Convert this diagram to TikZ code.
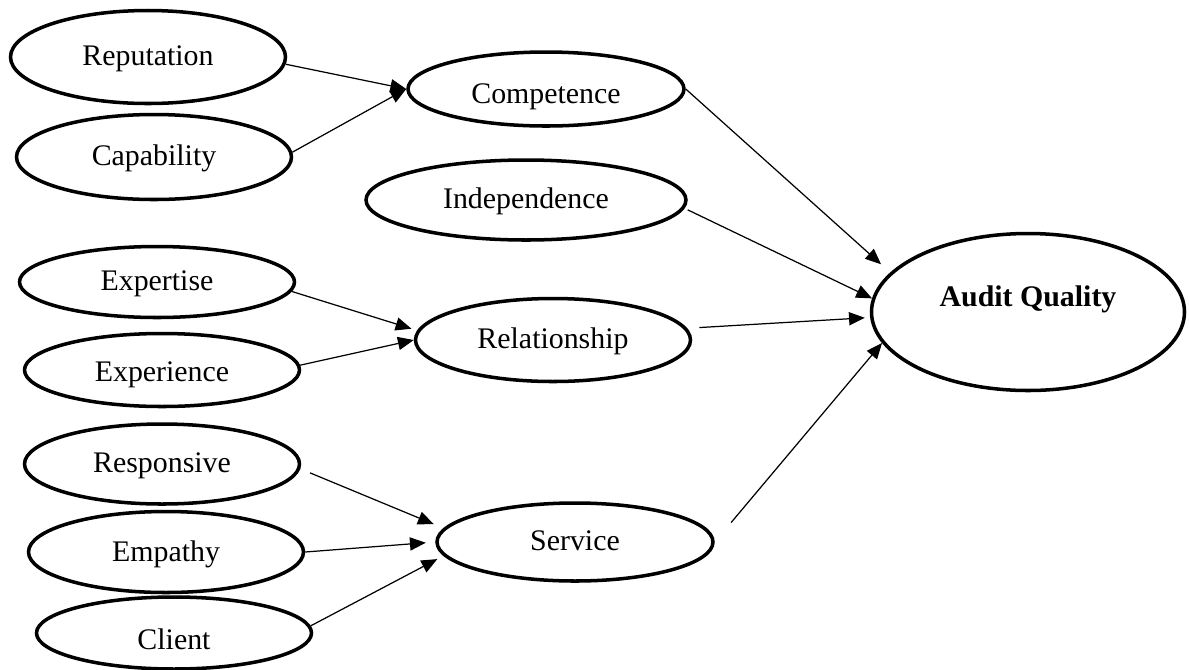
\documentclass[tikz,border=0pt]{standalone}
\usepackage{fontspec}
\setmainfont{Liberation Serif}
\usetikzlibrary{arrows.meta,shapes.geometric}

\begin{document}
\begin{tikzpicture}[
  oval/.style={draw,ellipse,line width=2pt,inner sep=0pt,minimum width=5.5cm,minimum height=1.62cm,text height=0.44cm,text depth=0.12cm,font=\fontsize{17}{20}\selectfont},
  sink/.style={text height=#1},
  lift/.style={text depth=#1},
  arr/.style={-{Triangle[length=9pt,width=7.5pt]},line width=0.7pt}]
\useasboundingbox (0,0) rectangle (23.8,-13.38);
% first-order factors
\node[oval,minimum height=1.86cm] (rep) at (2.96,-1.14) {Reputation};
\node[oval,minimum height=1.7cm] (cap) at (3.08,-3.14) {Capability};
\node[oval,minimum height=1.42cm] (expt) at (3.14,-5.64) {Expertise};
\node[oval,minimum height=1.46cm,sink=0.56cm] (expr) at (3.24,-7.40) {Experience};
\node[oval,minimum height=1.6cm] (resp) at (3.24,-9.28) {Responsive};
\node[oval,sink=0.5cm] (emp) at (3.32,-11.04) {Empathy};
\node[oval,minimum height=1.44cm,sink=0.76cm] (cli) at (3.48,-12.66) {Client};
% dimensions
\node[oval,minimum width=5.52cm,minimum height=1.48cm,sink=0.68cm] (comp) at (10.92,-1.78) {Competence};
\node[oval,minimum width=6.4cm,minimum height=1.6cm] (indep) at (10.52,-4.0) {Independence};
\node[oval,minimum height=1.66cm] (rel) at (11.06,-6.80) {Relationship};
\node[oval,minimum width=5.52cm,minimum height=1.56cm] (serv) at (11.5,-10.84) {Service};
% outcome
\node[oval,minimum width=6.26cm,minimum height=3.14cm,lift=0.68cm,font=\fontsize{17}{20}\selectfont\bfseries] (aq) at (20.56,-6.24) {Audit Quality};
% factors to dimensions
\draw[arr] (rep.-3) -- (comp.west);
\draw[arr] (cap.2) -- (comp.west);
\draw[arr,shorten >=3.4pt] (expt.-4) -- (rel.176);
\draw[arr] (expr.2) -- (rel.west);
\draw[arr,shorten <=6pt,shorten >=6pt] (resp.-2) -- (serv.174);
\draw[arr,shorten >=5.4pt] (emp.east) -- (serv.west);
\draw[arr,shorten >=4pt] (cli.3) -- (serv.186);
% dimensions to audit quality
\draw[arr,shorten >=7pt] (comp.east) -- (aq.164);
\draw[arr,shorten <=2pt] (indep.-3) -- (aq.175);
\draw[arr,shorten <=7pt,shorten >=3pt] (rel.5) -- (aq.182);
\draw[arr,shorten <=14.5pt] (serv.east) -- (aq.192);
\end{tikzpicture}
\end{document}
